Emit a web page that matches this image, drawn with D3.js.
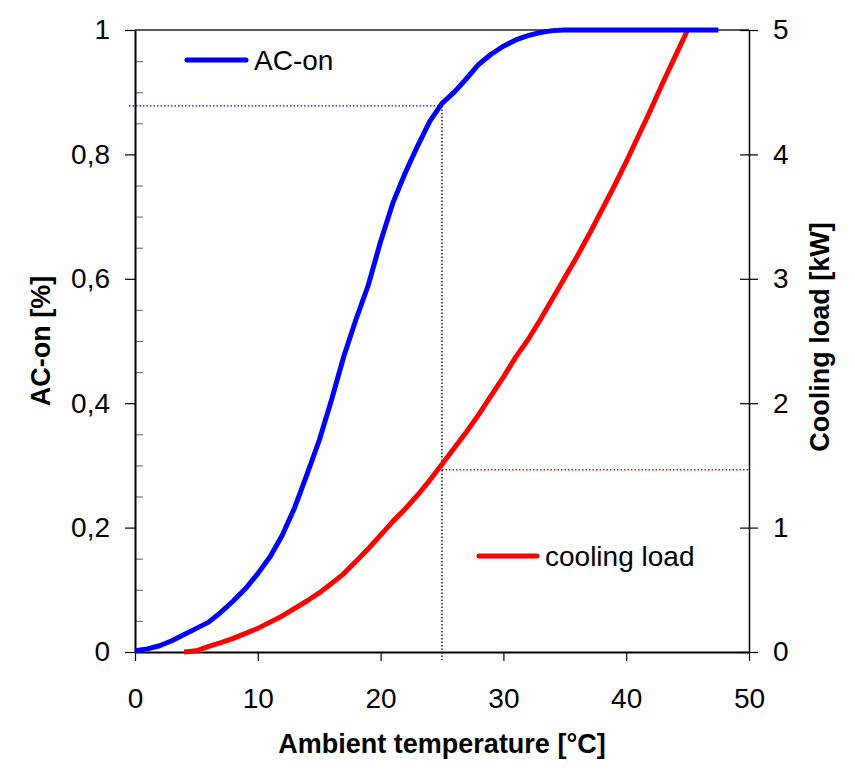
<!DOCTYPE html>
<html>
<head>
<meta charset="utf-8">
<script src="https://cdn.jsdelivr.net/npm/d3@7"></script>
<style>
  html, body { margin: 0; padding: 0; background: #fff; }
  svg { display: block; font-family: Arial, "Liberation Sans", sans-serif; }
</style>
</head>
<body>
<svg id="chart" width="855" height="771"></svg>
<script>
// AC-on share (left axis) against ambient temperature
const acTemp = [0, 1, 2, 3, 4, 5, 6, 7, 8, 9, 10, 11, 12, 13, 14, 15, 16, 17, 18, 19, 20,
  21, 22, 23, 24, 25, 26, 27, 28, 29, 30, 31, 32, 33, 34, 35, 38, 41, 44, 47.5];
const acOn = [0.002, 0.005, 0.010, 0.018, 0.028, 0.038, 0.048, 0.064, 0.082, 0.102, 0.126,
  0.153, 0.188, 0.232, 0.285, 0.340, 0.405, 0.475, 0.535, 0.590, 0.660, 0.722, 0.770, 0.813,
  0.853, 0.882, 0.900, 0.922, 0.945, 0.961, 0.974, 0.984, 0.991, 0.996, 0.999, 1, 1, 1, 1, 1];

// cooling load (right axis, kW)
const loadTemp = [4, 5, 6, 7, 8, 9, 10, 11, 12, 13, 14, 15, 16, 17, 18, 19, 20, 21, 22, 23, 24,
  25, 26, 27, 28, 29, 30, 31, 32, 33, 34, 35, 36, 37, 38, 39, 40, 41, 42, 43, 44, 45];
const coolingLoad = [0, 0.01, 0.045, 0.075, 0.11, 0.15, 0.19, 0.24, 0.29, 0.35, 0.41, 0.475,
  0.55, 0.63, 0.73, 0.83, 0.94, 1.05, 1.15, 1.26, 1.38, 1.51, 1.64, 1.77, 1.91, 2.06, 2.21,
  2.37, 2.51, 2.67, 2.84, 3.01, 3.18, 3.36, 3.55, 3.74, 3.94, 4.15, 4.36, 4.58, 4.79, 5.0];

// reference point at 25 °C
const markerTemp = 25;
const markerAcOn = 0.878;
const markerLoad = 1.465;

const xTicks = [0, 10, 20, 30, 40, 50];
const yTicks = [0, 0.2, 0.4, 0.6, 0.8, 1];
const yTickLabels = ['0', '0,2', '0,4', '0,6', '0,8', '1'];
const yMinorTicks = [0.05, 0.1, 0.15, 0.25, 0.3, 0.35, 0.45, 0.5, 0.55, 0.65, 0.7, 0.75, 0.85, 0.9, 0.95];
const y2Ticks = [0, 1, 2, 3, 4, 5];
const y2TickLabels = ['0', '1', '2', '3', '4', '5'];

const width = 855, height = 771;
const marginTop = 30, marginRight = 106, marginBottom = 119, marginLeft = 135;

const svg = d3.select('#chart');

const x = d3.scaleLinear().domain([0, 50]).range([marginLeft, width - marginRight]);
const y = d3.scaleLinear().domain([0, 1]).range([height - marginBottom, marginTop]);
const y2 = d3.scaleLinear().domain([0, 5]).range([height - marginBottom, marginTop]);

const fontSize = 28;

// top border
svg.append('line')
    .attr('x1', x(0)).attr('x2', x(50))
    .attr('y1', y(1)).attr('y2', y(1))
    .attr('stroke', '#222').attr('stroke-width', 1.5);

// left minor ticks (inward, grey)
svg.append('g')
    .attr('transform', `translate(${marginLeft}, 0)`)
    .call(d3.axisRight(y).tickValues(yMinorTicks).tickSize(8).tickFormat(''))
    .call(g => g.select('.domain').remove())
    .selectAll('line').attr('stroke', '#777').attr('stroke-width', 1.2);

// left axis
svg.append('g')
    .attr('transform', `translate(${marginLeft}, 0)`)
    .call(d3.axisLeft(y).tickValues(yTicks).tickSize(10).tickSizeOuter(0).tickPadding(15)
        .tickFormat((d, i) => yTickLabels[i]))
    .call(g => g.select('.domain').attr('stroke', '#000').attr('stroke-width', 2))
    .call(g => g.selectAll('line').attr('stroke', '#000').attr('stroke-width', 1.2))
    .call(g => g.selectAll('text').attr('font-size', fontSize).attr('fill', '#000').attr('font-family', null));

// right axis with crossing ticks
svg.append('g')
    .attr('transform', `translate(${width - marginRight}, 0)`)
    .call(d3.axisRight(y2).tickValues(y2Ticks).tickSize(9).tickSizeOuter(0).tickPadding(15)
        .tickFormat((d, i) => y2TickLabels[i]))
    .call(g => g.select('.domain').attr('stroke', '#000').attr('stroke-width', 1.5))
    .call(g => g.selectAll('.tick line').attr('x1', -9).attr('stroke', '#000').attr('stroke-width', 1.2))
    .call(g => g.selectAll('text').attr('font-size', fontSize).attr('fill', '#000').attr('font-family', null));

// bottom axis
svg.append('g')
    .attr('transform', `translate(0, ${height - marginBottom})`)
    .call(d3.axisBottom(x).tickValues(xTicks).tickSize(9).tickSizeOuter(0).tickPadding(27))
    .call(g => g.select('.domain').attr('stroke', '#000').attr('stroke-width', 2))
    .call(g => g.selectAll('line').attr('stroke', '#000').attr('stroke-width', 1.2))
    .call(g => g.selectAll('text').attr('font-size', fontSize).attr('fill', '#000').attr('font-family', null));

// reference dotted lines
svg.append('line')
    .attr('x1', x(0) - 6).attr('x2', x(markerTemp))
    .attr('y1', y(markerAcOn)).attr('y2', y(markerAcOn))
    .attr('stroke', '#0000ff').attr('stroke-width', 1.3).attr('stroke-dasharray', '1.5,2');

svg.append('line')
    .attr('x1', x(markerTemp)).attr('x2', x(50))
    .attr('y1', y2(markerLoad)).attr('y2', y2(markerLoad))
    .attr('stroke', '#ff0000').attr('stroke-width', 1.3).attr('stroke-dasharray', '1.5,2');

svg.append('line')
    .attr('x1', x(markerTemp)).attr('x2', x(markerTemp))
    .attr('y1', y(markerAcOn)).attr('y2', y(0) + 8)
    .attr('stroke', '#000').attr('stroke-width', 1.3).attr('stroke-dasharray', '1.5,2');

// curves
const acLine = d3.line().x((d, i) => x(acTemp[i])).y(d => y(d));
const loadLine = d3.line().x((d, i) => x(loadTemp[i])).y(d => y2(d));

svg.append('path')
    .attr('d', loadLine(coolingLoad))
    .attr('fill', 'none').attr('stroke', '#ff0000').attr('stroke-width', 5)
    .attr('stroke-linejoin', 'round');

svg.append('path')
    .attr('d', acLine(acOn))
    .attr('fill', 'none').attr('stroke', '#0000ff').attr('stroke-width', 5)
    .attr('stroke-linejoin', 'round');

// legends
const legends = [
    { label: 'AC-on', color: '#0000ff', x0: 187, x1: 246, yy: 60 },
    { label: 'cooling load', color: '#ff0000', x0: 479, x1: 537, yy: 556 }
];
legends.forEach(l => {
    svg.append('line')
        .attr('x1', l.x0).attr('x2', l.x1).attr('y1', l.yy).attr('y2', l.yy)
        .attr('stroke', l.color).attr('stroke-width', 5).attr('stroke-linecap', 'round');
    svg.append('text')
        .attr('x', l.x1 + 8).attr('y', l.yy + 10)
        .attr('font-size', fontSize).attr('fill', '#000')
        .text(l.label);
});

// axis titles
svg.append('text')
    .attr('x', (x(0) + x(50)) / 2).attr('y', 753)
    .attr('text-anchor', 'middle').attr('font-size', 27).attr('font-weight', 'bold')
    .text('Ambient temperature [°C]');

svg.append('text')
    .attr('transform', `translate(50, ${(y(0) + y(1)) / 2}) rotate(-90)`)
    .attr('text-anchor', 'middle').attr('font-size', 27).attr('font-weight', 'bold')
    .text('AC-on [%]');

svg.append('text')
    .attr('transform', `translate(829, ${(y(0) + y(1)) / 2 - 4}) rotate(-90)`)
    .attr('text-anchor', 'middle').attr('font-size', 27).attr('font-weight', 'bold')
    .text('Cooling load [kW]');
</script>
</body>
</html>
